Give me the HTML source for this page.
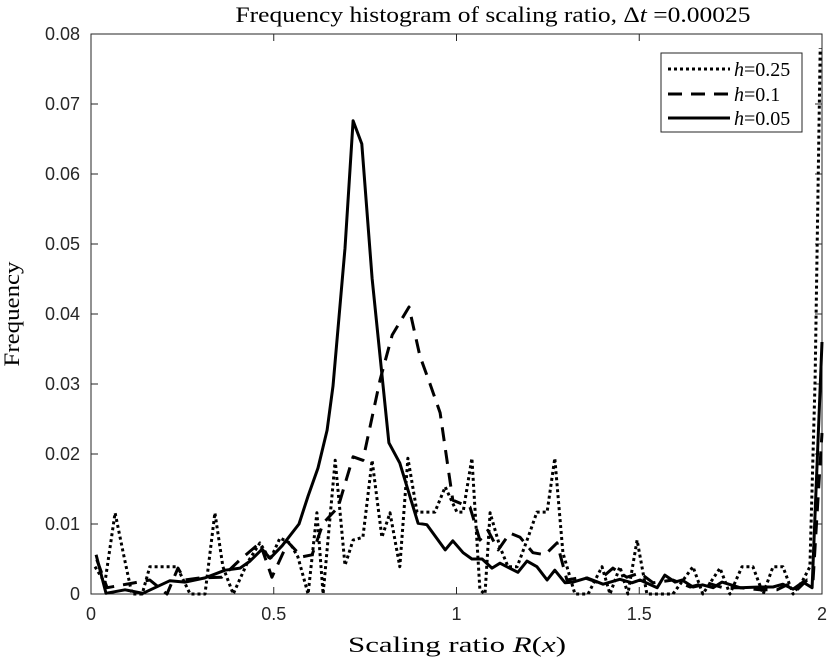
<!DOCTYPE html>
<html><head><meta charset="utf-8"><style>
body{margin:0;background:#fff;width:830px;height:662px;overflow:hidden}
svg{display:block}
.tk{font-family:"Liberation Sans",sans-serif;font-size:18px;fill:#262626}
.sr{font-family:"Liberation Serif",serif;fill:#000}
</style></head><body>
<svg id="chart" width="830" height="662" xmlns="http://www.w3.org/2000/svg">
<text class="sr" x="493" y="22" font-size="22" text-anchor="middle" textLength="515" lengthAdjust="spacingAndGlyphs">Frequency histogram of scaling ratio, <tspan font-style="normal">Δ</tspan><tspan font-style="italic">t</tspan> =0.00025</text>
<text class="sr" x="457" y="652" font-size="22" text-anchor="middle" textLength="218" lengthAdjust="spacingAndGlyphs">Scaling ratio <tspan font-style="italic">R</tspan>(<tspan font-style="italic">x</tspan>)</text>
<text class="sr" x="0" y="0" font-size="22" text-anchor="middle" textLength="105" lengthAdjust="spacingAndGlyphs" transform="translate(19,314) rotate(-90)">Frequency</text>
<g id="axes"></g>
<g id="series"></g>
<g>
<rect x="661" y="53" width="141" height="79" fill="#fff" stroke="#262626" stroke-width="1"/>
<line x1="668" y1="69" x2="730" y2="69" stroke="#000" stroke-width="3" stroke-dasharray="3,3"/>
<text class="sr" x="734" y="76" font-size="20"><tspan font-style="italic">h</tspan>=0.25</text>
<line x1="668" y1="94" x2="730" y2="94" stroke="#000" stroke-width="3" stroke-dasharray="14,9"/>
<text class="sr" x="734" y="101" font-size="20"><tspan font-style="italic">h</tspan>=0.1</text>
<line x1="668" y1="118" x2="730" y2="118" stroke="#000" stroke-width="3"/>
<text class="sr" x="734" y="125" font-size="20"><tspan font-style="italic">h</tspan>=0.05</text>
</g>
</svg>
<script>
const xTicks=[0,0.5,1,1.5,2];
const xTickLabels=["0","0.5","1","1.5","2"];
const yTicks=[0,0.01,0.02,0.03,0.04,0.05,0.06,0.07,0.08];
const yTickLabels=["0","0.01","0.02","0.03","0.04","0.05","0.06","0.07","0.08"];
const dottedX=[0.011,0.038,0.066,0.088,0.112,0.140,0.161,0.235,0.271,0.312,0.339,0.361,0.389,0.427,0.462,0.490,0.517,0.544,0.566,0.594,0.618,0.635,0.668,0.695,0.717,0.744,0.769,0.796,0.818,0.845,0.867,0.892,0.941,0.969,1.001,1.018,1.042,1.064,1.078,1.092,1.119,1.141,1.166,1.196,1.220,1.248,1.269,1.291,1.324,1.360,1.398,1.420,1.447,1.469,1.494,1.521,1.592,1.647,1.674,1.721,1.748,1.781,1.811,1.839,1.866,1.893,1.921,1.948,1.967,1.981,1.995];
const dottedY=[0.0039,0.0016,0.0116,0.0059,0,0,0.0039,0.0039,0,0,0.0116,0.0039,0,0.0044,0.0073,0.0049,0.008,0.0073,0.0053,0,0.0116,0,0.0191,0.0041,0.0077,0.0081,0.0191,0.0081,0.0116,0.0039,0.0194,0.0117,0.0117,0.0153,0.0117,0.0117,0.0194,0.0006,0,0.0116,0.0067,0.0039,0.0039,0.0081,0.0117,0.0117,0.0194,0.0059,0,0,0.0039,0,0.0039,0,0.0077,0,0,0.0039,0,0.0037,0,0.0039,0.0039,0,0.0039,0.0039,0,0.002,0.0039,0.0306,0.078];
const dashedX=[0.016,0.044,0.161,0.208,0.238,0.257,0.298,0.358,0.408,0.462,0.495,0.539,0.577,0.605,0.635,0.676,0.717,0.744,0.791,0.824,0.870,0.900,0.927,0.955,0.977,0.990,1.037,1.064,1.086,1.114,1.146,1.174,1.209,1.242,1.275,1.302,1.346,1.384,1.428,1.466,1.502,1.538,1.592,1.639,1.685,1.729,1.776,1.830,1.877,1.904,1.932,1.959,1.975,2.0];
const dashedY=[0.0049,0.0009,0.002,0,0.0037,0.002,0.0023,0.0024,0.0049,0.0073,0.0024,0.0074,0.0053,0.0056,0.0101,0.0124,0.0196,0.0191,0.0306,0.037,0.041,0.034,0.0301,0.0259,0.018,0.0134,0.0124,0.0077,0.0091,0.0063,0.0087,0.0081,0.0059,0.0056,0.0073,0.002,0.0024,0.0017,0.0037,0.0024,0.003,0.0016,0.002,0.001,0.0016,0.0009,0.0009,0.0006,0.0006,0.0013,0.0006,0.002,0.0016,0.023];
const solidX=[0.014,0.041,0.093,0.142,0.216,0.257,0.312,0.367,0.408,0.435,0.468,0.490,0.523,0.569,0.594,0.621,0.646,0.662,0.695,0.717,0.741,0.769,0.815,0.845,0.895,0.919,0.969,0.990,1.018,1.042,1.070,1.097,1.119,1.168,1.193,1.220,1.248,1.269,1.297,1.319,1.357,1.401,1.447,1.480,1.502,1.549,1.570,1.598,1.617,1.647,1.674,1.702,1.726,1.776,1.830,1.866,1.893,1.921,1.948,1.973,2.0];
const solidY=[0.0056,0.0001,0.0006,0.0001,0.0019,0.0017,0.0023,0.0034,0.0037,0.0047,0.0064,0.0051,0.0069,0.0100,0.0140,0.0180,0.0234,0.0297,0.0494,0.0676,0.0643,0.0451,0.0216,0.0187,0.0101,0.0099,0.0063,0.0076,0.0059,0.0050,0.0050,0.0037,0.0044,0.0031,0.0047,0.0039,0.0020,0.0034,0.0016,0.0017,0.0023,0.0014,0.0021,0.0016,0.0020,0.0009,0.0027,0.0017,0.0020,0.0010,0.0013,0.0009,0.0017,0.0009,0.0010,0.0010,0.0014,0.0007,0.0017,0.0009,0.036];

const L=91,R=822,T=34,B=594;
const sx=v=>L+(v-0)/(2-0)*(R-L);
const sy=v=>B-(v-0)/(0.08-0)*(B-T);
const NS="http://www.w3.org/2000/svg";
const axes=document.getElementById('axes');
const series=document.getElementById('series');
function mk(tag,attrs,parent){const e=document.createElementNS(NS,tag);for(const k in attrs)e.setAttribute(k,attrs[k]);parent.appendChild(e);return e;}
const frame=mk('rect',{x:L,y:T,width:R-L,height:B-T,fill:'none',stroke:'#262626','stroke-width':1},axes);


xTicks.forEach((v,i)=>{
  const x=sx(v);
  const t1=mk('line',{x1:x,y1:B,x2:x,y2:B-7,stroke:'#262626'},axes);
  
  
  const t2=mk('line',{x1:x,y1:T,x2:x,y2:T+7,stroke:'#262626'},axes);
  
  
  const lb=mk('text',{x:x,y:B+26,'text-anchor':'middle',class:'tk'},axes);
  lb.textContent=xTickLabels[i];
  
  
});
yTicks.forEach((v,i)=>{
  const y=sy(v);
  const t1=mk('line',{x1:L,y1:y,x2:L+7,y2:y,stroke:'#262626'},axes);
  
  
  const t2=mk('line',{x1:R,y1:y,x2:R-7,y2:y,stroke:'#262626'},axes);
  
  
  const lb=mk('text',{x:L-11,y:y+6,'text-anchor':'end',class:'tk'},axes);
  lb.textContent=yTickLabels[i];
  
  
});
function line(xs,ys,dash,name){
  const d=xs.map((v,i)=>(i?'L':'M')+sx(v).toFixed(1)+','+sy(ys[i]).toFixed(1)).join('');
  const p=mk('path',{d:d,fill:'none',stroke:'#000','stroke-width':3,'stroke-linejoin':'round'},series);
  if(dash)p.setAttribute('stroke-dasharray',dash);
  
  
}
line(dottedX,dottedY,'3,3','series-h025');
line(dashedX,dashedY,'14,9','series-h01');
line(solidX,solidY,null,'series-h005');
</script>
</body></html>
